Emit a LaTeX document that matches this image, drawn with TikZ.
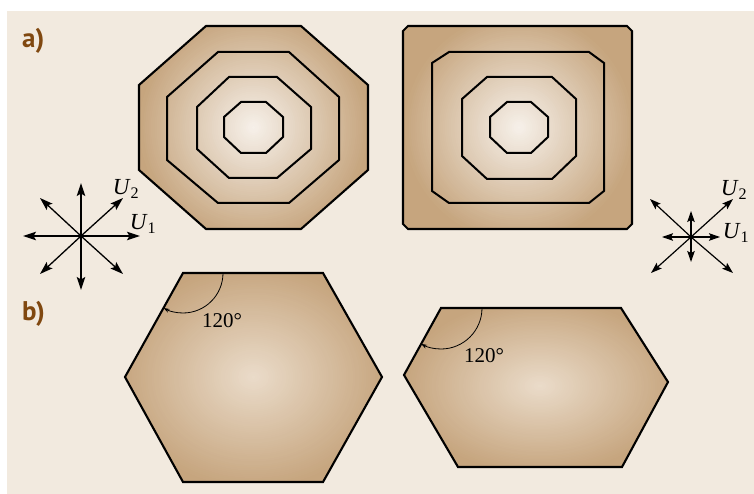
\documentclass[tikz,border=0pt]{standalone}
\usepackage{fontspec}
\setmainfont{Liberation Serif}
\newfontfamily\labfont{PT Sans}
\usetikzlibrary{arrows.meta}
\definecolor{bgc}{RGB}{242,234,223}
\definecolor{cTan}{RGB}{198,165,126}
\definecolor{cLight}{RGB}{246,240,233}
\definecolor{hexLight}{RGB}{234,219,201}
\definecolor{labBrown}{RGB}{128,72,16}
% radial colour fill: centre x, centre y, x radius, y radius, inner colour, outer colour
\newcommand\gradfill[6]{%
  \fill[#6] (#1-1000,#2-1000) rectangle (#1+1000,#2+1000);
  \foreach \gi in {0,...,60}{%
    \pgfmathtruncatemacro\gp{round(100*\gi/60)}%
    \pgfmathsetmacro\gr{1-\gi/61}%
    \fill[#5!\gp!#6] (#1,#2) circle[x radius=\gr*#3, y radius=\gr*#4];
  }%
}
\tikzset{
  outerpoly/.style={draw=black, line width=2.1pt, line join=miter},
  ringpoly/.style={draw=black, line width=2pt},
  comparrow/.style={line width=1.3pt, -{Stealth[length=13pt,width=8.5pt,inset=2.5pt]}},
  smallarrow/.style={line width=1.2pt, -{Stealth[length=11pt,width=7.5pt,inset=2pt]}},
  anglearc/.style={line width=0.8pt, -{Stealth[length=6pt,width=4pt]}},
  partlab/.style={font=\labfont\bfseries\fontsize{27}{30}\selectfont, text=labBrown, anchor=base west, inner sep=0pt},
  ulab/.style={font=\fontsize{23}{26}\selectfont, inner sep=0pt},
  anglab/.style={font=\fontsize{21}{24}\selectfont, inner sep=0pt}
}
\begin{document}
\begin{tikzpicture}[x=1pt,y=1pt]
\useasboundingbox (0,0) rectangle (754,-494);
\fill[bgc] (7,-11) rectangle (754,-494);

% labels
\node[partlab] (la) at (22,-48) {a)};
\node[partlab] (lb) at (22,-320) {b)};

% octagon with rings
\begin{scope}
\clip (206,-26) -- (301,-26) -- (368,-85) -- (368,-170) -- (301,-229) -- (206,-229) -- (139,-170) -- (139,-85) -- cycle;
\gradfill{253.5}{-127.5}{116}{116}{cLight}{cTan}
\end{scope}
\draw[outerpoly] (206,-26) -- (301,-26) -- (368,-85) -- (368,-170) -- (301,-229) -- (206,-229) -- (139,-170) -- (139,-85) -- cycle;
\draw[ringpoly] (218,-52) -- (289,-52) -- (339,-97) -- (339,-160) -- (289,-203) -- (218,-203) -- (167,-160) -- (167,-97) -- cycle;
\draw[ringpoly] (229,-77) -- (277,-77) -- (311,-107) -- (311,-149) -- (277,-178) -- (229,-178) -- (197,-149) -- (197,-107) -- cycle;
\draw[ringpoly] (241,-102) -- (266,-102) -- (283,-117) -- (283,-137) -- (266,-153) -- (241,-153) -- (224,-137) -- (224,-117) -- cycle;

% rectangle with rings
\begin{scope}
\clip (408,-26) -- (627,-26) -- (632,-31) -- (632,-224) -- (627,-229) -- (408,-229) -- (403,-224) -- (403,-31) -- cycle;
\gradfill{519}{-127.5}{116}{116}{cLight}{cTan}
\end{scope}
\draw[outerpoly] (408,-26) -- (627,-26) -- (632,-31) -- (632,-224) -- (627,-229) -- (408,-229) -- (403,-224) -- (403,-31) -- cycle;
\draw[ringpoly] (449,-52) -- (589,-52) -- (604,-63) -- (604,-191) -- (589,-203) -- (449,-203) -- (432,-191) -- (432,-63) -- cycle;
\draw[ringpoly] (487,-77) -- (552,-77) -- (576,-99) -- (576,-156) -- (552,-179) -- (487,-179) -- (462,-156) -- (462,-99) -- cycle;
\draw[ringpoly] (507,-102) -- (531,-102) -- (548,-117) -- (548,-137) -- (531,-153) -- (507,-153) -- (490,-137) -- (490,-117) -- cycle;

% left compass
\coordinate (c1) at (81,-236);
\coordinate (c1e) at (140,-236);
\coordinate (c1w) at (23,-236);
\coordinate (c1n) at (81,-183);
\coordinate (c1s) at (81,-290);
\coordinate (c1ne) at (123,-198);
\coordinate (c1nw) at (40,-198);
\coordinate (c1se) at (123,-274);
\coordinate (c1sw) at (40,-274);
\foreach \t in {c1e,c1w,c1n,c1s,c1ne,c1nw,c1se,c1sw} \draw[comparrow] (c1) -- (\t);
\node[ulab] (u2a) at (126,-189) {\textit{U}\textsubscript{2}};
\node[ulab] (u1a) at (143,-224) {\textit{U}\textsubscript{1}};

% right compass
\coordinate (c2) at (691,-237);
\coordinate (c2e) at (720,-237);
\coordinate (c2w) at (662,-237);
\coordinate (c2n) at (691,-211);
\coordinate (c2s) at (691,-262);
\coordinate (c2ne) at (733,-199);
\coordinate (c2nw) at (650,-199);
\coordinate (c2se) at (733,-273);
\coordinate (c2sw) at (651,-273);
\foreach \t in {c2e,c2w,c2n,c2s,c2ne,c2nw,c2se,c2sw} \draw[smallarrow] (c2) -- (\t);
\node[ulab] (u2b) at (734,-190) {\textit{U}\textsubscript{2}};
\node[ulab] (u1b) at (736,-233) {\textit{U}\textsubscript{1}};

% hexagon 1
\begin{scope}
\clip (183,-273) -- (323,-273) -- (382,-377) -- (323,-482) -- (183,-482) -- (125,-377) -- cycle;
\gradfill{253.5}{-377}{135}{112}{hexLight}{cTan}
\end{scope}
\draw[outerpoly] (183,-273) -- (323,-273) -- (382,-377) -- (323,-482) -- (183,-482) -- (125,-377) -- cycle;
\draw[anglearc] (223,-273) arc[start angle=0, end angle=-119, radius=40];
\node[anglab] (a1) at (222,-321) {120°};

% hexagon 2
\begin{scope}
\clip (441,-308) -- (621,-308) -- (668,-382) -- (622,-467) -- (458,-467) -- (404,-375) -- cycle;
\gradfill{540}{-386}{138}{88}{hexLight}{cTan}
\end{scope}
\draw[outerpoly] (441,-308) -- (621,-308) -- (668,-382) -- (622,-467) -- (458,-467) -- (404,-375) -- cycle;
\draw[anglearc] (482,-308) arc[start angle=0, end angle=-119, radius=41];
\node[anglab] (a2) at (484,-356) {120°};
\end{tikzpicture}
\end{document}
